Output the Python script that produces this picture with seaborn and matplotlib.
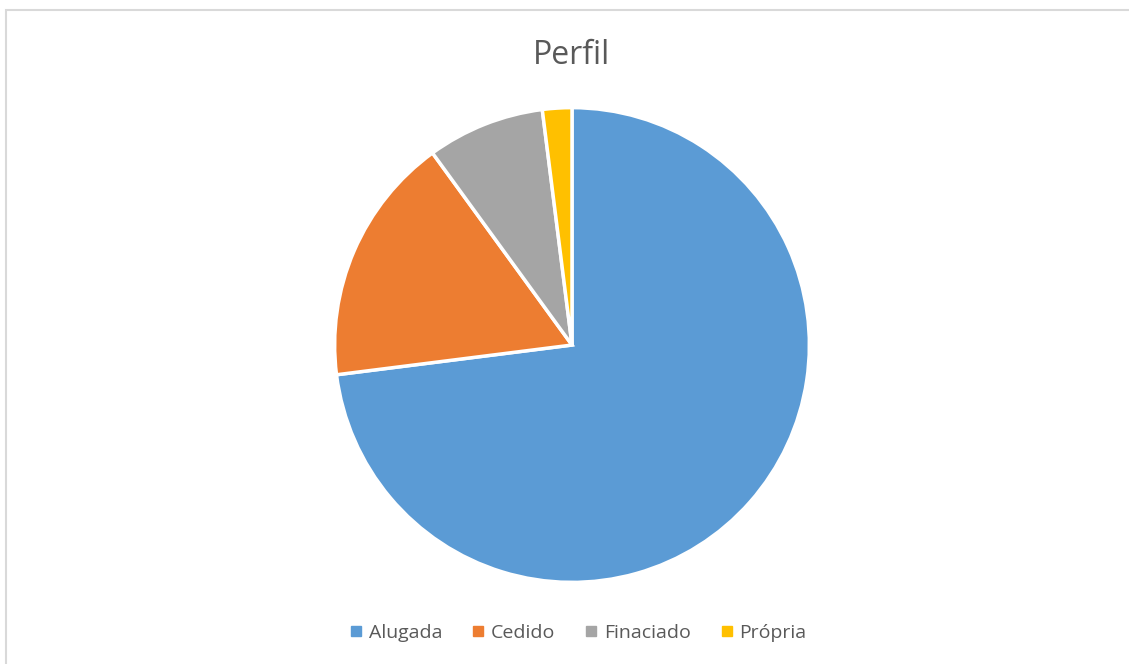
import matplotlib
matplotlib.use("Agg")
import matplotlib.pyplot as plt
import matplotlib.patches as mpatches
from matplotlib.lines import Line2D
import seaborn as sns

# data
labels = ["Alugada", "Cedido", "Finaciado", "Própria"]
values = [73, 17, 8, 2]
colors = ["#5B9BD5", "#ED7D31", "#A5A5A5", "#FFC000"]

sns.set_style("white")
plt.rcParams['font.family'] = ['Open Sans', 'DejaVu Sans']
palette = sns.color_palette(colors)

fig = plt.figure(figsize=(11.29, 6.64), dpi=100)
fig.patch.set_facecolor("white")

# chart frame
fig.patches.append(mpatches.Rectangle((6 / 1129, -0.01), 1.1, (664 - 10) / 664 + 0.01,
                                      transform=fig.transFigure, fill=False,
                                      edgecolor="#D9D9D9", linewidth=1.5))

ax = fig.add_axes([0.2985, 0.1265, 0.4163, 0.7078])
ax.pie(values, colors=palette, startangle=90, counterclock=False,
       wedgeprops=dict(edgecolor="white", linewidth=2.5))
ax.set_xlim(-0.99, 0.99)
ax.set_ylim(-0.99, 0.99)
ax.set_aspect("equal")

fig.text(572 / 1129, 1 - 55 / 664, "Perfil", ha="center", va="center",
         fontsize=23, color="#595959")

handles = [Line2D([0], [0], marker="s", linestyle="", markersize=7,
                  markerfacecolor=c, markeredgecolor=c) for c in palette]
fig.legend(handles, labels, loc="center", bbox_to_anchor=(577 / 1129, 1 - 633 / 664),
           ncol=4, frameon=False, fontsize=14, labelcolor="#595959",
           handletextpad=0.2, columnspacing=1.4, handlelength=0.9)

fig.savefig("out.png", dpi=100)
